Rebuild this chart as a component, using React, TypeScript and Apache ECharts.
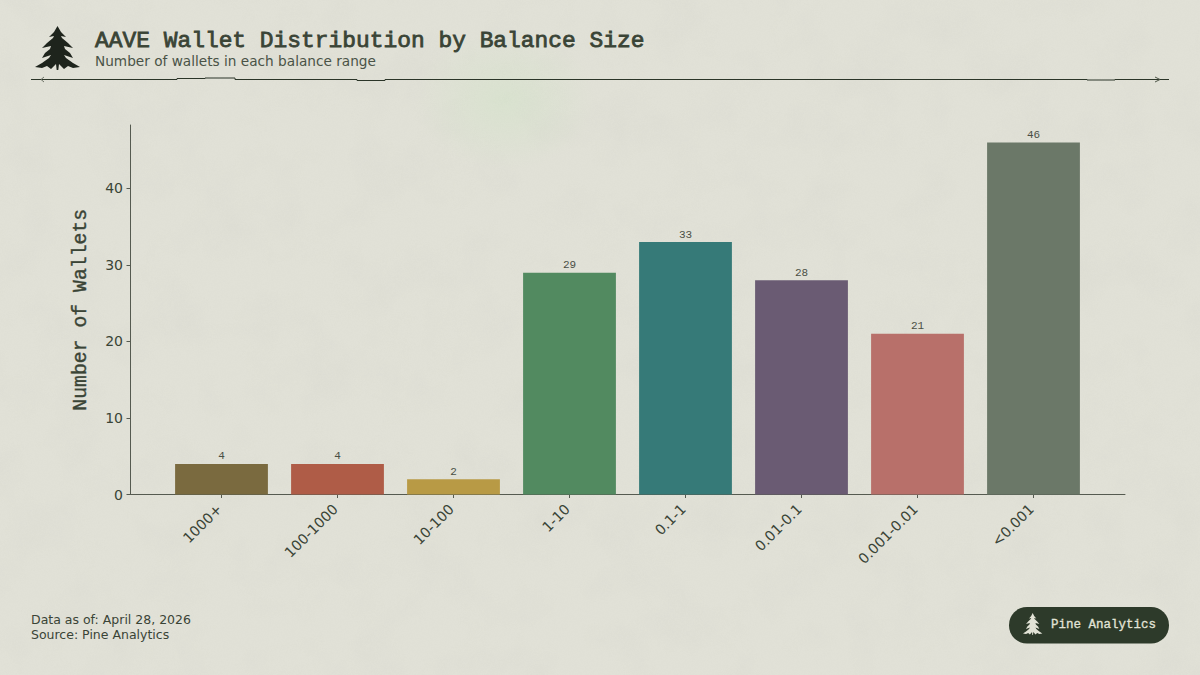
import React, { useEffect, useRef } from "react";
import * as echarts from "echarts";

const categories = ["1000+", "100-1000", "10-100", "1-10", "0.1-1", "0.01-0.1", "0.001-0.01", "<0.001"];
const walletCounts = [4, 4, 2, 29, 33, 28, 21, 46];
const barColors = ["#7A6A3F", "#AF5C47", "#B89A45", "#528A60", "#367A78", "#6A5B73", "#B8706A", "#6B7868"];
const yTicks = [0, 10, 20, 30, 40];

const titleText = "AAVE Wallet Distribution by Balance Size";
const subtitleText = "Number of wallets in each balance range";
const footerText = ["Data as of: April 28, 2026", "Source: Pine Analytics"];
const brandText = "Pine Analytics";
const yAxisName = "Number of Wallets";

const INK = "#3A4436";
const AXIS = "#555A50";
const MONO = '"Liberation Mono", monospace';
const SANS = '"DejaVu Sans", sans-serif';

const TREE_D =
  "M22.5 0 L26 6 L31 11 L26 10 L27 12 L33 17 L38 22 L29 20 L30 23 L35 27 L38 32 L29 29 L31 32 L38 37 L45 41 L38 42 L33 40 L29 43 L24 38 L23.3 44 L21.7 44 L21 38 L16 43 L12 40 L7 42 L0 41 L7 37 L14 32 L16 29 L7 32 L10 27 L15 23 L16 20 L7 22 L12 17 L18 12 L19 10 L14 11 L19 6 Z";
echarts.graphic.registerShape("treeLogo", echarts.graphic.extendPath(TREE_D, {}));

const noiseSvg =
  "<svg xmlns='http://www.w3.org/2000/svg' width='1200' height='675'>" +
  "<filter id='a' x='0' y='0' width='100%' height='100%'><feTurbulence type='fractalNoise' baseFrequency='0.02' numOctaves='5' seed='7'/>" +
  "<feColorMatrix values='0 0 0 0 0.5 0 0 0 0 0.5 0 0 0 0 0.46 0 0 0 0.7 -0.3'/></filter>" +
  "<filter id='b' x='0' y='0' width='100%' height='100%'><feTurbulence type='fractalNoise' baseFrequency='0.7' numOctaves='2' seed='3'/>" +
  "<feColorMatrix values='0 0 0 0 0.45 0 0 0 0 0.45 0 0 0 0 0.42 0 0 0 0.3 -0.1'/></filter>" +
  "<rect width='1200' height='675' filter='url(#a)' opacity='0.22'/><rect width='1200' height='675' filter='url(#b)' opacity='0.2'/></svg>";

export default function App() {
  const ref = useRef<HTMLDivElement>(null);
  useEffect(() => {
    document.body.style.margin = "0";
    const chart = echarts.init(ref.current!, undefined, { renderer: "svg" });
    chart.setOption({
      animation: false,
      backgroundColor: "transparent",
      grid: [
        { left: 130, width: 995, top: 125, height: 369.5 },
        { left: 163.5, width: 928, top: 125, height: 369.5 },
      ],
      xAxis: [
        { gridIndex: 0, type: "value", min: 0, max: 1, axisLine: { show: true, onZero: false, lineStyle: { color: AXIS, width: 1 } }, axisTick: { show: false }, axisLabel: { show: false }, splitLine: { show: false } },
        {
          gridIndex: 1,
          type: "category",
          data: categories,
          axisLine: { show: false },
          axisTick: { show: true, alignWithLabel: true, length: 3.5, lineStyle: { color: AXIS } },
          axisLabel: { rotate: 45, interval: 0, margin: 10, fontFamily: SANS, fontSize: 14.2, color: INK, padding: [0, 3, 0, 0] },
        },
      ],
      yAxis: [
        {
          gridIndex: 0,
          type: "value",
          min: 0,
          max: 48.3,
          interval: 10,
          name: yAxisName,
          nameLocation: "middle",
          nameGap: 39,
          nameTextStyle: { fontFamily: MONO, fontSize: 19.8, color: INK, textBorderColor: INK, textBorderWidth: 0.4 },
          axisLine: { show: true, lineStyle: { color: AXIS, width: 1 } },
          axisTick: { show: true, length: 3.5, lineStyle: { color: AXIS }, customValues: yTicks },
          axisLabel: { fontFamily: SANS, fontSize: 14, color: INK, margin: 7, customValues: yTicks },
          splitLine: { show: false },
        },
        { gridIndex: 1, type: "value", min: 0, max: 48.3, show: false, splitLine: { show: false } },
      ],
      series: [
        {
          type: "bar",
          xAxisIndex: 1,
          yAxisIndex: 1,
          barWidth: "80%",
          data: walletCounts.map((v, i) => ({ value: v, itemStyle: { color: barColors[i] } })),
          label: { show: true, position: "top", distance: 2, fontFamily: MONO, fontSize: 11, color: "#4A4F45" },
        },
      ],
      graphic: [
        { type: "treeLogo", x: 35, y: 26, style: { fill: "#1E241C" } },
        { type: "text", x: 95, y: 40.5, style: { text: titleText, fontFamily: MONO, fontSize: 22.9, fill: INK, stroke: INK, lineWidth: 0.8, textVerticalAlign: "middle" } },
        { type: "text", x: 95, y: 60.5, style: { text: subtitleText, fontFamily: SANS, fontSize: 13.66, fill: "#4A5347", textVerticalAlign: "middle" } },
        { type: "polyline", shape: { points: [[31, 79.5], [177, 79.5], [177, 78.5], [205, 78.5], [205, 78], [235, 78], [235, 79.5], [357, 79.5], [357, 80.5], [385, 80.5], [385, 79.5], [1087, 79.5], [1087, 80], [1115, 80], [1115, 79.5], [1169, 79.5]] }, style: { stroke: "#2B3528", lineWidth: 1, fill: "none" } },
        { type: "polyline", shape: { points: [[44, 77], [41, 79.5], [44, 82]] }, style: { stroke: "#6E7468", lineWidth: 1, fill: "none" } },
        { type: "polyline", shape: { points: [[1155, 77], [1160, 79.5], [1155, 82]] }, style: { stroke: "#4E5648", lineWidth: 1, fill: "none" } },
        { type: "text", x: 31, y: 619, style: { text: footerText[0], fontFamily: SANS, fontSize: 12.5, fill: INK, textVerticalAlign: "middle" } },
        { type: "text", x: 31, y: 634, style: { text: footerText[1], fontFamily: SANS, fontSize: 12.5, fill: INK, textVerticalAlign: "middle" } },
        { type: "rect", shape: { x: 1009, y: 607, width: 160, height: 36.5, r: 18 }, style: { fill: "#2D3A2A" } },
        { type: "treeLogo", x: 1023, y: 613, scaleX: 0.43, scaleY: 0.5, style: { fill: "#E2E3D6" } },
        { type: "text", x: 1051, y: 625, style: { text: brandText, fontFamily: MONO, fontSize: 12.5, fill: "#E2E3D6", stroke: "#E2E3D6", lineWidth: 0.3, textVerticalAlign: "middle" } },
      ],
    });
    return () => chart.dispose();
  }, []);
  return (
    <div
      style={{
        position: "relative",
        width: 1200,
        height: 675,
        overflow: "hidden",
        backgroundColor: "#E1E1D7",
        backgroundImage: `url("data:image/svg+xml,${encodeURIComponent(noiseSvg)}"), radial-gradient(ellipse 90px 70px at 505px 100px, rgba(205,228,195,0.4), rgba(205,228,195,0))`,
      }}
    >
      <div ref={ref} style={{ width: 1200, height: 675 }} />
    </div>
  );
}
